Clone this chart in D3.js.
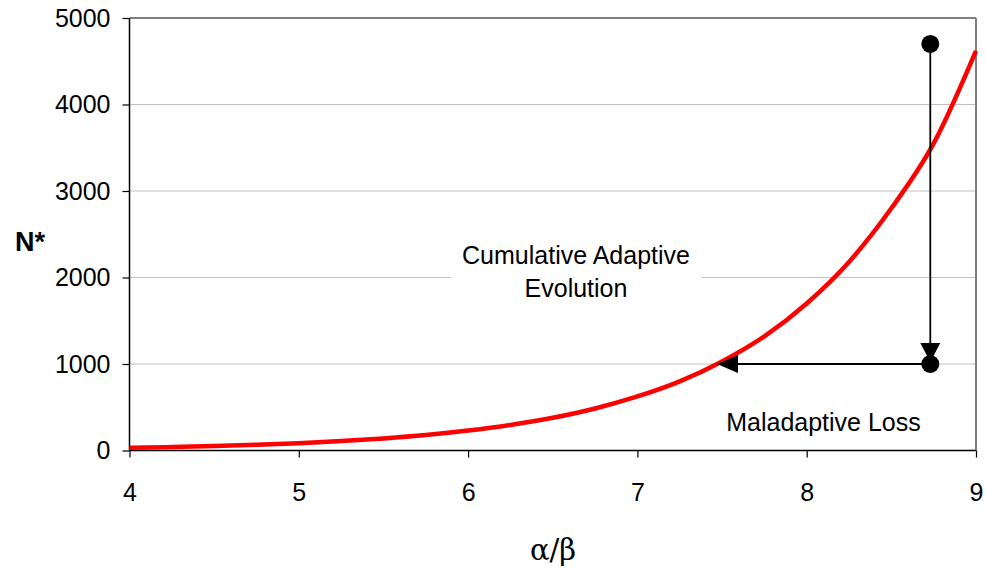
<!DOCTYPE html>
<html><head><meta charset="utf-8">
<script src="https://cdn.jsdelivr.net/npm/d3@7"></script>
<style>body{margin:0;background:#fff;} svg{display:block;font-family:"Liberation Sans",Arial,sans-serif;}</style>
</head><body>
<svg id="c" width="985" height="576"></svg>
<script>
const xTicks = [4,5,6,7,8,9];
const yTicks = [0,1000,2000,3000,4000,5000];
const curveX = [4,4.25,4.5,4.75,5,5.25,5.5,5.75,6,6.25,6.5,6.75,7,7.25,7.5,7.75,8,8.25,8.5,8.75,9];
const curveN = [31,40,51,66,85,109,140,179,230,295,378,486,625,800,1030,1320,1700,2180,2800,3550,4620];
const pointX = [8.73, 8.73];
const pointN = [4700, 1000];
const arrowEndX = 7.47;

const svg = d3.select("#c");
const L=129.5, R=976, T=18, B=450.5;
const x = d3.scaleLinear().domain([4,9]).range([L,R]);
const y = d3.scaleLinear().domain([0,5000]).range([B,T]);

// gridlines
svg.append("g").selectAll("line").data(yTicks.filter(d=>d>0&&d<5000)).join("line")
  .attr("x1",L).attr("x2",R).attr("y1",d=>y(d)).attr("y2",d=>y(d))
  .attr("stroke","#c0c0c0").attr("stroke-width",1);
// frame top/right
svg.append("line").attr("x1",L).attr("x2",R).attr("y1",T).attr("y2",T).attr("stroke","#808080").attr("stroke-width",2);
svg.append("line").attr("x1",R).attr("x2",R).attr("y1",T).attr("y2",B).attr("stroke","#808080").attr("stroke-width",2);

// text box
svg.append("rect").attr("x",451).attr("y",238).attr("width",251).attr("height",68).attr("fill","#fff");
const t1 = svg.append("text").attr("x",576).attr("y",264).attr("text-anchor","middle").attr("font-size",25).attr("fill","#000");
t1.append("tspan").attr("x",576).attr("dy",0).text("Cumulative Adaptive");
t1.append("tspan").attr("x",576).attr("dy",33).text("Evolution");
svg.append("text").attr("x",823.5).attr("y",431).attr("text-anchor","middle").attr("font-size",25).text("Maladaptive Loss");

// axes
const yAxis = d3.axisLeft(y).tickValues(yTicks).tickSize(7).tickPadding(12).tickFormat(d3.format("d"));
const gy = svg.append("g").attr("transform",`translate(${L},0)`).call(yAxis);
const xAxis = d3.axisBottom(x).tickValues(xTicks).tickSize(7).tickPadding(26).tickFormat(d3.format("d"));
const gx = svg.append("g").attr("transform",`translate(0,${B})`).call(xAxis);
[gy,gx].forEach(g=>{
  g.attr("font-size",null).attr("font-family",null);
  g.select(".domain").attr("stroke","#000").attr("stroke-width",1.5);
  g.selectAll(".tick line").attr("stroke","#000").attr("stroke-width",1.2);
  g.selectAll(".tick text").style("font-size","25px").style("font-family","Liberation Sans, Arial, sans-serif").attr("fill","#000");
});
gy.select(".domain").attr("d",`M0,${T}V${B}`);
gx.select(".domain").attr("d",`M${L},0H${R}`);

// curve
const line = d3.line().x((d,i)=>x(curveX[i])).y((d,i)=>y(curveN[i])).curve(d3.curveMonotoneX);
svg.append("path").datum(curveN).attr("d",line).attr("fill","none").attr("stroke","#ff0000").attr("stroke-width",4.5);

// vertical arrow
const px = x(pointX[0]);
svg.append("line").attr("x1",px).attr("x2",px).attr("y1",y(pointN[0])).attr("y2",y(pointN[1])-18).attr("stroke","#000").attr("stroke-width",1.8);
svg.append("path").attr("d",`M${px-10},${y(pointN[1])-21}L${px+10},${y(pointN[1])-21}L${px},${y(pointN[1])-2}Z`).attr("fill","#000");
// horizontal arrow
const ay = y(pointN[1]);
const ax = x(arrowEndX);
svg.append("line").attr("x1",px).attr("x2",ax+18).attr("y1",ay).attr("y2",ay).attr("stroke","#000").attr("stroke-width",1.8);
svg.append("path").attr("d",`M${ax},${ay}L${ax+21},${ay-9}L${ax+21},${ay+9}Z`).attr("fill","#000");
// points
svg.append("g").selectAll("circle").data(pointN).join("circle")
  .attr("cx",(d,i)=>x(pointX[i])).attr("cy",d=>y(d)).attr("r",9).attr("fill","#000");

// axis titles
svg.append("text").attr("x",30).attr("y",251).attr("text-anchor","middle").attr("font-size",27).attr("font-weight","bold").text("N*");
svg.append("text").attr("x",553).attr("y",560).attr("text-anchor","middle").attr("font-size",29).attr("font-family","DejaVu Serif, Liberation Serif, serif").text("α/β");
</script>
</body></html>
